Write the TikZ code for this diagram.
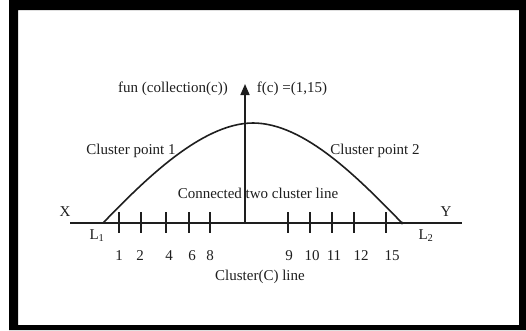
\documentclass[tikz,border=0pt]{standalone}
\usepackage{fontspec}
\setmainfont{Liberation Serif}
\usepackage{tikz}
\usetikzlibrary{arrows.meta, positioning}
\definecolor{cInk}{RGB}{30,30,30}
\tikzset{
    lbl/.style      ={inner sep=0pt, text=cInk, font=\fontsize{15}{17}\selectfont},
    axisline/.style ={line width=2pt, cInk},
    tickmark/.style ={line width=1.4pt, cInk},
    bellcurve/.style={line width=1.6pt, cInk},
    uparrow/.style  ={-{Triangle[length=11pt, width=9pt]}, line width=1.6pt, cInk},
}

\begin{document}
\begin{tikzpicture}[x=1pt, y=-1pt]
                \useasboundingbox (0,0) rectangle (526,330);
                % frame
                \fill[black, even odd rule] (9,0) rectangle (526,330) (18,10) rectangle (519,325);
                % axis and curve
                \coordinate (xend) at (70,223);
                \coordinate (yend) at (462,223);
                \coordinate (lone) at (103,223);
                \coordinate (ltwo) at (402,223);
                \coordinate (peak) at (253,123);
                \coordinate (orig) at (245,223);
                \coordinate (top) at (245,84);
                \draw[axisline] (xend) -- (yend);
                \draw[bellcurve] (lone) .. controls (140,185) and (200,123) .. (peak)
                    .. controls (305,123) and (360,180) .. (ltwo);
                \fill[cInk] (ltwo) circle (1.6pt);
                \draw[uparrow] (orig) -- (top);
                % ticks and numbers
                \foreach \x/\n in {119/1, 141/2, 166/4, 189/6, 210/8, 288/9, 310/10, 332/11, 354/12, 386/15} {
                    \coordinate (t\n) at (\x,223);
                    \draw[tickmark] ([yshift=11pt]t\n) -- ([yshift=-10pt]t\n);
                }
                \foreach \x/\n in {119/1, 140/2, 169/4, 192/6, 210/8, 289/9, 312/10, 334/11, 361/12, 392/15}
                    \node[lbl] (num\n) at (\x,256) {\n};
                % labels
                \node[lbl] (xlab) at (65,212) {X};
                \node[lbl] (ylab) at (446,212) {Y};
                \node[lbl] (lonelab) at (97,236) {L\textsubscript{1}};
                \node[lbl] (ltwolab) at (426,236) {L\textsubscript{2}};
                \node[lbl] (clusterline) at (260,277) {Cluster(C) line};
                \node[lbl] (cpone) at (131,151) {Cluster point 1};
                \node[lbl] (cptwo) at (375,151) {Cluster point 2};
                \node[lbl] (connected) at (258,193) {Connected two cluster line};
                \node[lbl] (funlab) at (173,89) {fun (collection(c))};
                \node[lbl] (fclab) at (292,89) {f(c) =(1,15)};
            \end{tikzpicture}
\end{document}
